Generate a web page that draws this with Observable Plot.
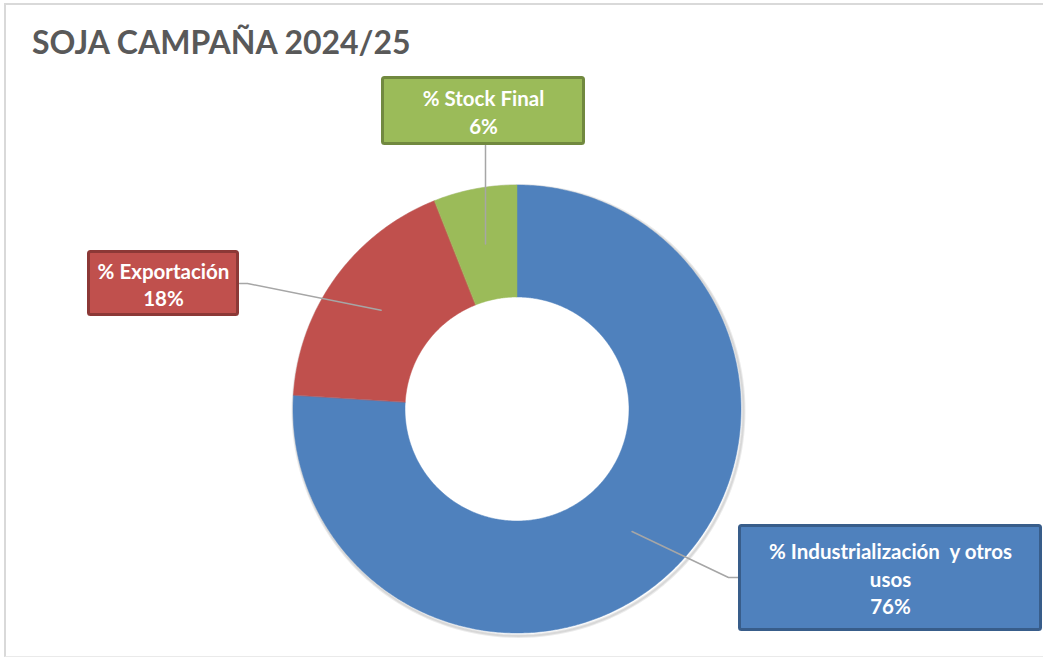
<!DOCTYPE html>
<html>
<head>
<meta charset="utf-8">
<script src="https://cdn.jsdelivr.net/npm/d3@7"></script>
<script src="https://cdn.jsdelivr.net/npm/@observablehq/plot@0.6"></script>
<style>
  html, body { margin: 0; padding: 0; background: #fff; }
  #wrap { position: relative; width: 1043px; height: 659px; overflow: hidden; }
  #frame { position: absolute; left: 4px; top: 3px; width: 1060px; height: 651px;
           border-left: 2px solid #D9D9D9; border-top: 2px solid #D9D9D9; border-bottom: 1px solid #EAEAEA; }
  #title { position: absolute; left: 32px; top: 23px; font-family: Lato, sans-serif; font-weight: 700;
           font-size: 32px; line-height: 38px; color: #595959; margin: 0; white-space: nowrap; }
  #chart { position: absolute; left: 0; top: 0; }
</style>
</head>
<body>
<div id="wrap">
  <div id="frame"></div>
  <div id="chart"></div>
  <h2 id="title">SOJA CAMPAÑA 2024/25</h2>
</div>
<script>
// ---- data ----
const categories = ["% Industrialización  y otros usos", "% Exportación", "% Stock Final"];
const values = [76, 18, 6];
const labelNames = ["% Industrialización  y otros\nusos", "% Exportación", "% Stock Final"];

// ---- styles ----
const sliceColors = ["#4F81BD", "#C0504D", "#9BBB59"];
const borderColors = ["#385D8A", "#8C3836", "#71893F"];

// ---- layout (pixel space) ----
const W = 1043, H = 659;
const cx = 516.5, cy = 408.5, rOuter = 224, rInner = 112;
const boxes = [
  {x1: 738, x2: 1042, y1: 524, y2: 631, attach: [738, 577], elbow: [728, 577]},
  {x1: 87,  x2: 239,  y1: 250, y2: 316, attach: [239, 283], elbow: [247, 283]},
  {x1: 381, x2: 585,  y1: 76,  y2: 145, attach: [485, 145], elbow: [485, 145]}
];

const total = d3.sum(values);
const arcs = d3.pie().sort(null).value(d => d)(values);

const pt = (r, a) => [cx + r * Math.sin(a), cy - r * Math.cos(a)];

// donut polygons, one array per slice
const slicePolys = arcs.map((arc, i) => {
  const n = Math.max(2, Math.ceil((arc.endAngle - arc.startAngle) / 0.01));
  const outer = d3.range(n + 1).map(k => pt(rOuter, arc.startAngle + (arc.endAngle - arc.startAngle) * k / n));
  const inner = d3.range(n + 1).map(k => pt(rInner, arc.endAngle - (arc.endAngle - arc.startAngle) * k / n));
  return [...outer, ...inner].map(([x, y]) => ({cat: categories[i], x, y}));
});

// soft shadow ring (outer circle, offset)
const shadow = d3.range(0, 361, 2).map(deg => {
  const [x, y] = pt(rOuter + 1, deg * Math.PI / 180);
  return {x: x + 1.5, y: y + 2};
});

// leader lines: box -> elbow -> ring middle at mid-angle
const leaders = [];
arcs.forEach((arc, i) => {
  const mid = (arc.startAngle + arc.endAngle) / 2;
  const [ax, ay] = pt((rOuter + rInner) / 2, mid);
  const b = boxes[i];
  [b.attach, b.elbow, [ax, ay]].forEach(([x, y]) => leaders.push({cat: categories[i], x, y}));
});

const labels = categories.map((c, i) => ({
  cat: c,
  text: `${labelNames[i]}\n${Math.round(values[i] / total * 100)}%`,
  x: (boxes[i].x1 + boxes[i].x2) / 2,
  y: (boxes[i].y1 + boxes[i].y2) / 2
}));

const sliceMarks = slicePolys.map((p, i) => Plot.line(p, {
  x: "x", y: "y", fill: sliceColors[i], stroke: sliceColors[i], strokeWidth: 0.5, curve: "linear-closed"
}));

const boxMarks = categories.map((c, i) => Plot.rect([boxes[i]], {
  x1: d => d.x1 + 1.5, x2: d => d.x2 - 1.5, y1: d => d.y1 + 1.5, y2: d => d.y2 - 1.5,
  fill: sliceColors[i], stroke: borderColors[i], strokeWidth: 3, rx: 2
}));

const chart = Plot.plot({
  width: W, height: H, margin: 0,
  x: {domain: [0, W], range: [0, W], axis: null},
  y: {domain: [0, H], range: [0, H], axis: null},
  marks: [
    Plot.line(shadow, {x: "x", y: "y", stroke: "#000", strokeOpacity: 0.08, strokeWidth: 4, curve: "linear-closed"}),
    Plot.line(shadow, {x: "x", y: "y", stroke: "#000", strokeOpacity: 0.08, strokeWidth: 2, curve: "linear-closed"}),
    ...sliceMarks,
    Plot.line(leaders, {x: "x", y: "y", z: "cat", stroke: "#A6A6A6", strokeWidth: 1.5}),
    ...boxMarks,
    Plot.text(labels, {x: "x", y: "y", text: "text", fill: "white", fontFamily: "Lato, sans-serif",
      fontWeight: 700, fontSize: 20.5, lineHeight: 1.34, lineAnchor: "middle", textAnchor: "middle"})
  ]
});
document.getElementById("chart").appendChild(chart);
</script>
</body>
</html>
